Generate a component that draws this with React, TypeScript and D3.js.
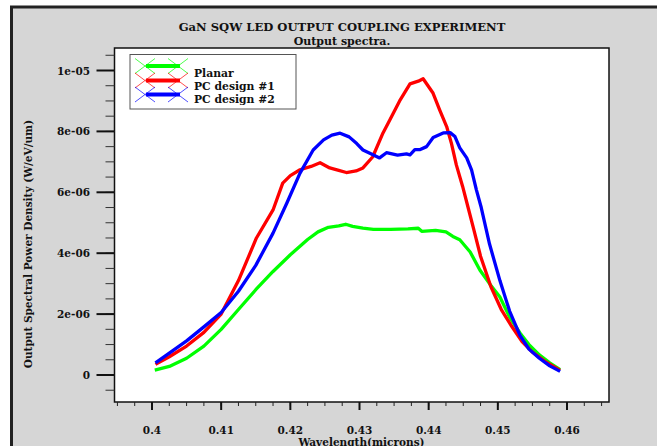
import React from "react";
import * as d3 from "d3";

const title = "GaN SQW LED OUTPUT COUPLING EXPERIMENT";
const subtitle = "Output spectra.";
const xLabel = "Wavelength(microns)";
const yLabel = "Output Spectral Power Density (W/eV/um)";

const xTicks = [0.4, 0.41, 0.42, 0.43, 0.44, 0.45, 0.46];
const xTickLabels = ["0.4", "0.41", "0.42", "0.43", "0.44", "0.45", "0.46"];
const yTicks = [0, 2e-6, 4e-6, 6e-6, 8e-6, 1e-5];
const yTickLabels = ["0", "2e-06", "4e-06", "6e-06", "8e-06", "1e-05"];

const seriesNames = ["Planar", "PC design #1", "PC design #2"];
const seriesColors = ["#00ff00", "#ff0000", "#0000ff"];

// wavelength (microns), power density (in 1e-6 W/eV/um)
const planarX = [0.4004, 0.4025, 0.405, 0.4075, 0.41, 0.4125, 0.415, 0.4175, 0.42, 0.4225, 0.424, 0.4255, 0.427, 0.428, 0.429, 0.4305, 0.432, 0.4345, 0.437, 0.4385, 0.439, 0.441, 0.4425, 0.4435, 0.4445, 0.446, 0.4474, 0.4488, 0.4503, 0.4517, 0.4532, 0.4545, 0.456, 0.4575, 0.459];
const planarY = [0.16, 0.28, 0.55, 0.95, 1.5, 2.15, 2.8, 3.4, 3.95, 4.45, 4.7, 4.85, 4.9, 4.95, 4.88, 4.82, 4.78, 4.78, 4.8, 4.82, 4.72, 4.75, 4.7, 4.55, 4.44, 4.04, 3.45, 3.0, 2.56, 1.9, 1.38, 1.0, 0.66, 0.4, 0.18];

const pc1X = [0.4005, 0.4025, 0.405, 0.4075, 0.41, 0.4125, 0.4151, 0.4175, 0.4189, 0.42, 0.4214, 0.423, 0.4243, 0.4257, 0.427, 0.4281, 0.4295, 0.4305, 0.4319, 0.4334, 0.4344, 0.4358, 0.4373, 0.4385, 0.4392, 0.4406, 0.4416, 0.4426, 0.4433, 0.444, 0.4449, 0.4457, 0.4465, 0.4475, 0.449, 0.4505, 0.452, 0.4535, 0.455, 0.457, 0.459];
const pc1Y = [0.35, 0.6, 0.95, 1.4, 2.0, 3.1, 4.5, 5.42, 6.3, 6.55, 6.74, 6.85, 6.97, 6.8, 6.72, 6.65, 6.7, 6.8, 7.16, 7.95, 8.38, 9.0, 9.56, 9.65, 9.73, 9.27, 8.7, 8.16, 7.6, 6.9, 6.2, 5.5, 4.8, 3.9, 2.9, 2.15, 1.6, 1.1, 0.75, 0.42, 0.15];

const pc2X = [0.4005, 0.4025, 0.405, 0.4075, 0.41, 0.4125, 0.415, 0.4175, 0.4195, 0.4214, 0.4233, 0.4248, 0.426, 0.4272, 0.4285, 0.4296, 0.4305, 0.4318, 0.4329, 0.4339, 0.4355, 0.4368, 0.4373, 0.438, 0.4387, 0.4397, 0.44065, 0.4421, 0.4431, 0.4438, 0.4445, 0.4455, 0.4462, 0.4469, 0.4476, 0.4488, 0.4503, 0.4517, 0.4532, 0.4545, 0.456, 0.4575, 0.459];
const pc2Y = [0.4, 0.72, 1.12, 1.58, 2.05, 2.75, 3.6, 4.66, 5.65, 6.63, 7.39, 7.72, 7.88, 7.94, 7.82, 7.6, 7.39, 7.25, 7.13, 7.3, 7.22, 7.26, 7.23, 7.4, 7.4, 7.5, 7.8, 7.95, 7.96, 7.83, 7.46, 7.13, 6.74, 6.08, 5.5, 4.3, 3.1, 2.1, 1.3, 0.85, 0.55, 0.3, 0.12];

const FONT = "'DejaVu Serif', 'Liberation Serif', serif";

export default function App() {
  const W = 657, H = 446;
  const left = 114.5, right = 609, top = 48, bottom = 402;
  const x = d3.scaleLinear().domain([0.4, 0.46]).range([152, 567]);
  const y = d3.scaleLinear().domain([0, 1e-5]).range([375, 70.5]);

  const minorX = d3.range(0.395, 0.4651, 0.0025).filter((v) => x(v) >= left - 0.5 && x(v) <= right + 0.5);
  const minorY = d3.range(-5e-7, 1.06e-5, 5e-7);

  const line = d3
    .line<[number, number]>()
    .x((d) => x(d[0]))
    .y((d) => y(d[1] * 1e-6));

  const series = [
    { xs: planarX, ys: planarY },
    { xs: pc1X, ys: pc1Y },
    { xs: pc2X, ys: pc2Y },
  ];

  const legendLineY = [66, 80.5, 94.5];
  const legendTextY = [76.5, 89.5, 103];

  return (
    <svg width={W} height={H} style={{ position: "absolute", left: 0, top: 0 }} fontFamily={FONT}>
      <rect x={0} y={0} width={W} height={H} fill="#ffffff" />
      <rect x={11.5} y={7} width={720} height={520} fill="#d6d6d6" stroke="#222" strokeWidth={3} />
      <text x={342} y={31} textAnchor="middle" fontWeight="bold" fontSize={11.6} fill="#111">{title}</text>
      <text x={342} y={45} textAnchor="middle" fontWeight="bold" fontSize={11} fill="#111">{subtitle}</text>

      <rect x={left} y={top} width={right - left} height={bottom - top} fill="#fff" stroke="none" />

      <clipPath id="plotclip">
        <rect x={left} y={top} width={right - left} height={bottom - top} />
      </clipPath>
      <g clipPath="url(#plotclip)">
        {series.map((s, i) => (
          <path
            key={i}
            d={line(s.xs.map((v, j) => [v, s.ys[j]] as [number, number])) || ""}
            fill="none"
            stroke={seriesColors[i]}
            strokeWidth={3.3}
            strokeLinejoin="round"
          />
        ))}
      </g>

      <rect x={left} y={top} width={right - left} height={bottom - top} fill="none" stroke="#111" strokeWidth={1.5} />

      {/* x ticks */}
      {minorX.map((v, i) => (
        <line key={"mx" + i} x1={x(v)} x2={x(v)} y1={bottom} y2={bottom + 4} stroke="#222" strokeWidth={1} />
      ))}
      {xTicks.map((v, i) => (
        <g key={"x" + i}>
          <line x1={x(v)} x2={x(v)} y1={bottom} y2={bottom + 8} stroke="#111" strokeWidth={2} />
          <text x={x(v)} y={434} textAnchor="middle" fontWeight="bold" fontSize={10.5} fill="#111">{xTickLabels[i]}</text>
        </g>
      ))}
      <text x={361.5} y={446} textAnchor="middle" fontWeight="bold" fontSize={10.5} fill="#111">{xLabel}</text>

      {/* y ticks */}
      {minorY.map((v, i) => (
        <line key={"my" + i} x1={left - 9} x2={left} y1={y(v)} y2={y(v)} stroke="#333" strokeWidth={1} />
      ))}
      {yTicks.map((v, i) => (
        <g key={"y" + i}>
          <line x1={left - 18} x2={left} y1={y(v)} y2={y(v)} stroke="#111" strokeWidth={2} />
          <text x={90} y={y(v) + 4} textAnchor="end" fontWeight="bold" fontSize={10.5} fill="#111">{yTickLabels[i]}</text>
        </g>
      ))}
      <text
        transform={`translate(32,${244}) rotate(-90)`}
        textAnchor="middle"
        fontWeight="bold"
        fontSize={10.5}
        fill="#111"
      >
        {yLabel}
      </text>

      {/* legend */}
      <rect x={130} y={54.5} width={166} height={54.5} fill="#fff" stroke="#555" strokeWidth={1} />
      {seriesNames.map((name, i) => {
        const ly = legendLineY[i];
        const c = seriesColors[i];
        return (
          <g key={"lg" + i}>
            {[145, 178].map((cx, k) => (
              <g key={k}>
                <line x1={cx - 10} y1={ly - 7.5} x2={cx + 10} y2={ly + 7.5} stroke={c} strokeWidth={0.7} />
                <line x1={cx - 10} y1={ly + 7.5} x2={cx + 10} y2={ly - 7.5} stroke={c} strokeWidth={0.7} />
              </g>
            ))}
            <line x1={146} x2={180} y1={ly} y2={ly} stroke={c} strokeWidth={4} />
            <text x={194} y={legendTextY[i]} fontWeight="bold" fontSize={10.8} fill="#111">{name}</text>
          </g>
        );
      })}
    </svg>
  );
}
